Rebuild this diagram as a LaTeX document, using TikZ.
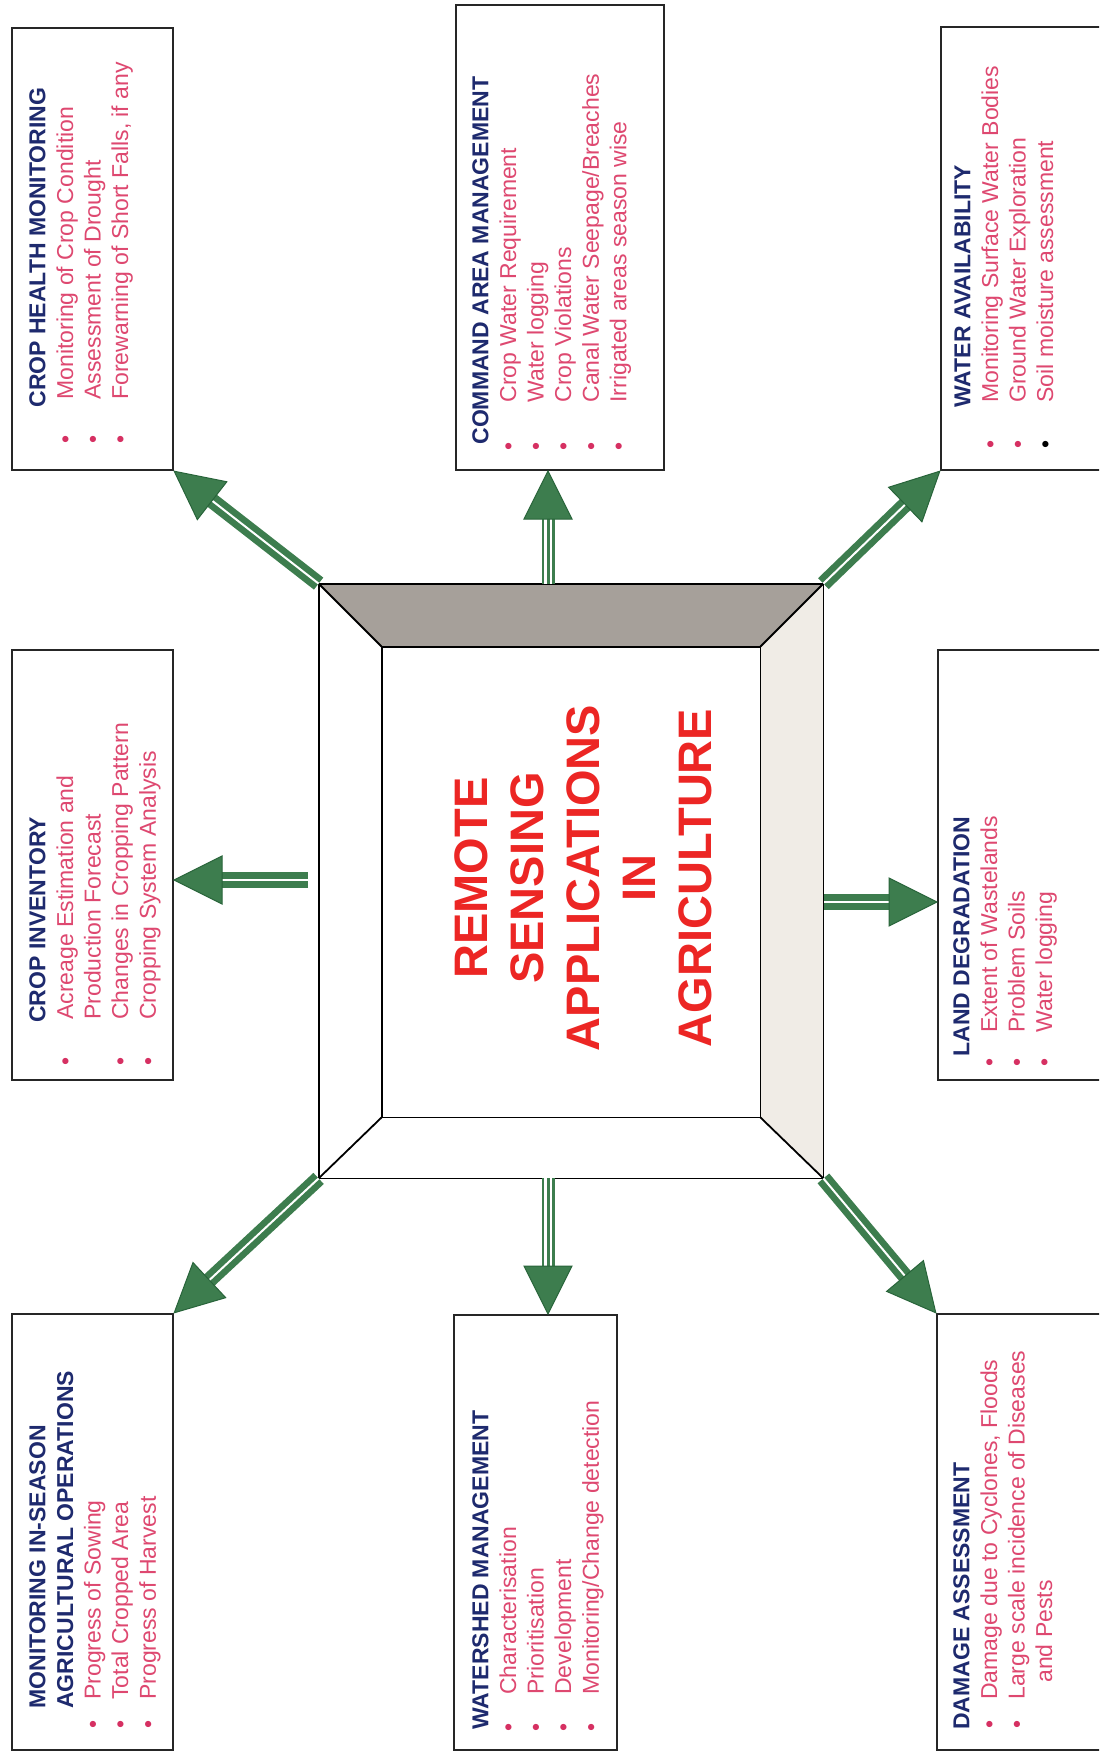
\documentclass[tikz,border=0pt]{standalone}
\usepackage{fontspec}
\setmainfont{Liberation Sans}
\usetikzlibrary{calc,fit}
\definecolor{agreen}{RGB}{61,125,78}
\definecolor{agreendk}{RGB}{40,100,58}
\definecolor{navy}{RGB}{30,42,110}
\definecolor{bpink}{RGB}{222,72,112}
\definecolor{bulpink}{RGB}{214,48,98}
\definecolor{cred}{RGB}{236,38,36}
\definecolor{topgray}{RGB}{166,160,154}
\definecolor{rightbeige}{RGB}{240,236,230}
\newdimen\PX \PX=0.5pt
\newcommand\hd[1]{{\bfseries\color{navy}#1}}
\newcommand\bul{\makebox[0pt]{\color{bulpink}\textbullet}}
\newcommand\bulk{\makebox[0pt]{\color{black}\textbullet}}
\newcommand\gdarrow[2]{%
  \draw[agreen, line width=3.3pt, double=white, double distance=1pt] (#1) -- ($(#2)!20pt!(#1)$);
  \coordinate (hb) at ($(#2)!24pt!(#1)$);
  \filldraw[fill=agreen, draw=agreendk, line width=0.5pt, line join=miter] (#2) -- ($(hb)!12pt!90:(#2)$) -- ($(hb)!12pt!-90:(#2)$) -- cycle;
}
\newcommand\gvarrow[2]{%
  \draw[agreen, line width=6.5pt] (#1) -- ($(#2)!20pt!(#1)$);
  \draw[white, line width=1.1pt, transform canvas={xshift=1.3pt}] (#1) -- ($(#2)!22pt!(#1)$);
  \draw[white, line width=1.1pt, transform canvas={xshift=-1.3pt}] (#1) -- ($(#2)!22pt!(#1)$);
  \coordinate (hb) at ($(#2)!24pt!(#1)$);
  \filldraw[fill=agreen, draw=agreendk, line width=0.5pt, line join=miter] (#2) -- ($(hb)!12pt!90:(#2)$) -- ($(hb)!12pt!-90:(#2)$) -- cycle;
}
\begin{document}
\begin{tikzpicture}[x=0.5pt,y=-0.5pt,
  bx/.style={draw=black!85, line width=1.2pt, inner sep=0pt, fill=white},
  txt/.style={rotate=90, anchor=north west, inner sep=0pt, text=bpink, font=\fontsize{11.5}{13.8}\selectfont},
  fline/.style={draw=black, line width=0.9pt}]
\clip (0,0) rectangle (1099,1754);
\fill[white] (0,0) rectangle (1099,1754);

% boxes
\node[bx, fit={(12,28) (173,470)}] (b1) {};
\node[bx, fit={(456,5) (664,470)}] (b2) {};
\node[bx, fit={(941,27) (1108,470)}] (b3) {};
\node[bx, fit={(12,650) (173,1080)}] (b4) {};
\node[bx, fit={(938,650) (1108,1080)}] (b5) {};
\node[bx, fit={(12,1314) (173,1750)}] (b6) {};
\node[bx, fit={(454,1315) (617,1750)}] (b7) {};
\node[bx, fit={(937,1314) (1108,1750)}] (b8) {};

% box texts
\node[txt] (t1) at (25.7,470) {\begin{tabular}{@{\hspace{30\PX}}c@{\hspace{40\PX}}l@{}}
\multicolumn{2}{@{\hspace{62\PX}}l@{}}{\hd{CROP HEALTH MONITORING}}\\
\bul & Monitoring of Crop Condition\\
\bul & Assessment of Drought\\
\bul & Forewarning of Short Falls, if any
\end{tabular}};

\node[txt] (t2) at (468.7,470) {\begin{tabular}{@{\hspace{23\PX}}c@{\hspace{44\PX}}l@{}}
\multicolumn{2}{@{\hspace{25\PX}}l@{}}{\hd{COMMAND AREA MANAGEMENT}}\\
\bul & Crop Water Requirement\\
\bul & Water logging\\
\bul & Crop Violations\\
\bul & Canal Water Seepage/Breaches\\
\bul & Irrigated areas season wise
\end{tabular}};

\node[txt] (t3) at (950.7,470) {\begin{tabular}{@{\hspace{25\PX}}c@{\hspace{42\PX}}l@{}}
\multicolumn{2}{@{\hspace{62\PX}}l@{}}{\hd{WATER AVAILABILITY}}\\
\bul & Monitoring Surface Water Bodies\\
\bul & Ground Water Exploration\\
\bulk & Soil moisture assessment
\end{tabular}};

\node[txt] (t4) at (25.7,1080) {\begin{tabular}{@{\hspace{18\PX}}c@{\hspace{42\PX}}l@{}}
\multicolumn{2}{@{\hspace{57\PX}}l@{}}{\hd{CROP INVENTORY}}\\
\bul & Acreage Estimation and\\
 & Production Forecast\\
\bul & Changes in Cropping Pattern\\
\bul & Cropping System Analysis
\end{tabular}};

\node[txt] (t5) at (949.7,1080) {\begin{tabular}{@{\hspace{17\PX}}c@{\hspace{30\PX}}l@{}}
\multicolumn{2}{@{\hspace{23\PX}}l@{}}{\hd{LAND DEGRADATION}}\\
\bul & Extent of Wastelands\\
\bul & Problem Soils\\
\bul & Water logging
\end{tabular}};

\node[txt] (t6) at (25.7,1750) {\begin{tabular}{@{\hspace{25\PX}}c@{\hspace{25\PX}}l@{}}
\multicolumn{2}{@{\hspace{41\PX}}l@{}}{\hd{MONITORING IN-SEASON}}\\
\multicolumn{2}{@{\hspace{41\PX}}l@{}}{\hd{AGRICULTURAL OPERATIONS}}\\
\bul & Progress of Sowing\\
\bul & Total Cropped Area\\
\bul & Progress of Harvest
\end{tabular}};

\node[txt] (t7) at (468.7,1750) {\begin{tabular}{@{\hspace{22\PX}}c@{\hspace{33\PX}}l@{}}
\multicolumn{2}{@{\hspace{20\PX}}l@{}}{\hd{WATERSHED MANAGEMENT}}\\
\bul & Characterisation\\
\bul & Prioritisation\\
\bul & Development\\
\bul & Monitoring/Change detection
\end{tabular}};

\node[txt] (t8) at (949.7,1750) {\begin{tabular}{@{\hspace{25\PX}}c@{\hspace{25\PX}}l@{}}
\multicolumn{2}{@{\hspace{20\PX}}l@{}}{\hd{DAMAGE ASSESSMENT}}\\
\bul & Damage due to Cyclones, Floods\\
\bul & Large scale incidence of Diseases\\
 & \hspace{17\PX}and Pests
\end{tabular}};

% central frame
\node[fit={(319,584) (823,1178)}, inner sep=0pt] (fr) {};
\node[fit={(382,647) (760,1117)}, inner sep=0pt] (fi) {};
\fill[topgray] (fr.north west) -- (fr.north east) -- (fi.north east) -- (fi.north west) -- cycle;
\fill[rightbeige] (fr.north east) -- (fr.south east) -- (fi.south east) -- (fi.north east) -- cycle;
\draw[fline] (fr.north west) rectangle (fr.south east);
\draw[fline] (fi.north west) rectangle (fi.south east);
\draw[fline] (fr.north west) -- (fi.north west);
\draw[fline] (fr.north east) -- (fi.north east);
\draw[fline] (fr.south west) -- (fi.south west);
\draw[fline] (fr.south east) -- (fi.south east);

\node[rotate=90, text=cred, font=\bfseries\fontsize{23.5}{28}\selectfont, align=center, inner sep=0pt] (title) at (583,878)
  {REMOTE\\SENSING\\APPLICATIONS\\IN\\AGRICULTURE};

% arrow end points
\coordinate (s2) at (548,584);  \coordinate (e2) at (548,471);
\coordinate (s4) at (308,880);  \coordinate (e4) at (174,880);
\coordinate (s5) at (824,902);  \coordinate (e5) at (937,902);
\coordinate (s7) at (548,1178); \coordinate (e7) at (548,1314);

% arrows
\gdarrow{fr.north west}{b1.south east}
\gvarrow{s2}{e2}
\gdarrow{fr.north east}{b3.south west}
\gdarrow{s4}{e4}
\gdarrow{s5}{e5}
\gdarrow{fr.south west}{b6.north east}
\gvarrow{s7}{e7}
\gdarrow{fr.south east}{b8.north west}
\end{tikzpicture}
\end{document}
